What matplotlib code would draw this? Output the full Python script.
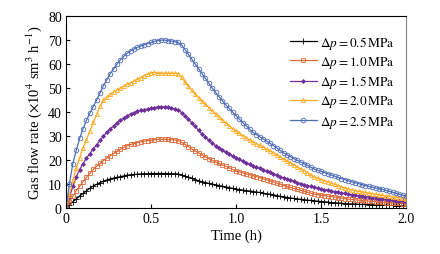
import numpy as np
import matplotlib
matplotlib.use("Agg")
import matplotlib.pyplot as plt

plt.rcParams['font.family'] = ['Liberation Serif', 'DejaVu Serif']
plt.rcParams['mathtext.fontset'] = 'stix'

# time axis, h (sampled every 0.02 h)
time = np.round(np.arange(101) * 0.02, 2)

# gas flow rate, 10^4 sm^3/h
q05 = [0, 1.3, 2.6, 3.8, 5, 6.1, 7.2, 8.3, 9.2, 9.9, 10.6, 11.2, 11.7, 12.1, 12.5, 12.8, 13.1,
       13.4, 13.7, 13.9, 14, 14.1, 14.2, 14.3, 14.3, 14.4, 14.4, 14.4, 14.4, 14.4, 14.4, 14.3,
       14.3, 14.2, 13.8, 13.3, 12.9, 12.4, 11.9, 11.4, 11, 10.6, 10.3, 10, 9.7, 9.4, 9.1, 8.8,
       8.5, 8.2, 7.9, 7.7, 7.5, 7.3, 7.1, 6.9, 6.7, 6.5, 6.2, 6, 5.8, 5.5, 5.2, 4.9, 4.7, 4.4,
       4.2, 4, 3.8, 3.7, 3.5, 3.3, 3.2, 3, 2.9, 2.7, 2.6, 2.5, 2.3, 2.2, 2.1, 2, 1.9, 1.8, 1.7,
       1.7, 1.6, 1.5, 1.5, 1.4, 1.4, 1.3, 1.3, 1.2, 1.2, 1.1, 1.1, 1, 1, 0.9, 0.9]
q10 = [0, 2.5, 5, 7.2, 9.1, 11, 12.8, 14.5, 16.1, 17.4, 18.6, 19.8, 20.9, 21.8, 22.8, 23.7, 24.5,
       25.3, 26, 26.5, 26.9, 27.3, 27.6, 27.9, 28.1, 28.3, 28.5, 28.6, 28.7, 28.7, 28.6, 28.5,
       28.4, 28.1, 27.4, 26.5, 25.6, 24.7, 23.8, 23, 22.2, 21.4, 20.6, 19.9, 19.2, 18.6, 18, 17.4,
       16.8, 16.1, 15.5, 15.1, 14.7, 14.3, 13.9, 13.5, 13.1, 12.7, 12.2, 11.8, 11.4, 10.9, 10.4,
       9.9, 9.4, 9, 8.6, 8.2, 7.8, 7.4, 7, 6.6, 6.2, 5.8, 5.6, 5.4, 5.2, 5, 4.8, 4.6, 4.4, 4.2,
       3.9, 3.7, 3.6, 3.5, 3.3, 3.2, 3.1, 2.9, 2.8, 2.7, 2.5, 2.4, 2.3, 2.2, 2.1, 2.1, 2, 1.9, 1.8]
q15 = [0, 4.5, 9, 13, 16, 18.5, 20.7, 22.7, 24.6, 26.4, 28.2, 30, 31.6, 33, 34.3, 35.5, 36.6,
       37.6, 38.5, 39.2, 39.8, 40.3, 40.7, 41, 41.3, 41.6, 41.9, 42.1, 42.2, 42.2, 42, 41.7, 41.3,
       40.7, 39.8, 38.4, 37, 35.5, 34, 32.4, 30.8, 29.5, 28.3, 27.1, 26, 25, 24.2, 23.4, 22.6,
       21.8, 21, 20.3, 19.6, 18.9, 18.2, 17.6, 17, 16.5, 16, 15.4, 14.9, 14.3, 13.7, 13.1, 12.6,
       12, 11.5, 11.1, 10.6, 10.2, 9.8, 9.4, 9, 8.6, 8.3, 8, 7.7, 7.4, 7.1, 6.8, 6.6, 6.3, 6.1,
       5.8, 5.6, 5.4, 5.2, 5, 4.8, 4.5, 4.3, 4.1, 3.9, 3.7, 3.6, 3.4, 3.3, 3.1, 3, 2.9, 2.7]
q20 = [0, 5.5, 11.5, 16.5, 21, 25, 28.5, 32, 35.7, 39, 42.5, 45, 46.3, 47.4, 48.4, 49.2, 50,
       50.8, 51.6, 52.3, 53, 53.7, 54.4, 55.2, 55.9, 56.4, 56.5, 56.3, 56.2, 56.2, 56.2, 56.2,
       56.2, 56, 54.5, 52.6, 50.8, 49, 47.4, 46, 44.6, 43.2, 41.9, 40.6, 39.3, 38, 36.7, 35.5,
       34.3, 33.1, 32, 31.1, 30.2, 29.3, 28.4, 27.5, 26.8, 26.1, 25.3, 24.6, 23.9, 23, 22.2,
       21.3, 20.4, 19.6, 18.8, 18, 17.2, 16.4, 15.6, 14.8, 13.8, 12.9, 12.4, 11.9, 11.4, 10.9,
       10.4, 9.9, 9.4, 8.9, 8.4, 7.9, 7.6, 7.3, 7, 6.7, 6.5, 6.2, 6, 5.8, 5.5, 5.3, 5.1, 4.9,
       4.7, 4.5, 4.3, 4.1, 3.8]
q25 = [0, 10, 18.5, 24, 29, 33, 36.5, 39.5, 42.3, 45, 48, 51, 53.5, 56, 58, 60, 61.8, 63.3,
       64.5, 65.5, 66.3, 67, 67.6, 68.1, 68.5, 69, 69.5, 69.8, 70, 70, 69.8, 69.6, 69.3, 69, 68,
       66, 64, 62, 60, 58, 56, 54, 52, 50, 48.2, 46.4, 44.7, 43, 41.5, 40, 38.5, 37, 35.6, 34.3,
       32.9, 31.5, 30.6, 29.7, 28.8, 27.9, 27, 26, 25, 24, 23, 22.2, 21.4, 20.6, 19.9, 19.2,
       18.5, 17.8, 17, 16.3, 15.8, 15.3, 14.8, 14.3, 13.8, 13.3, 12.8, 12.3, 11.9, 11.4, 11,
       10.6, 10.2, 9.8, 9.4, 9.1, 8.7, 8.4, 8.1, 7.8, 7.4, 7, 6.6, 6.2, 5.8, 5.4, 5.0]

series = [q05, q10, q15, q20, q25]
labels = ["0.5", "1.0", "1.5", "2.0", "2.5"]
colors = ["#000000", "#E06A38", "#70309A", "#FFAA22", "#4F6CB8"]
markers = ["+", "s", "D", "^", "o"]
msizes = [4.5, 3.0, 2.0, 3.0, 3.3]

fig = plt.figure(figsize=(4.4, 2.55), dpi=100)
ax = fig.add_axes([0.15, 0.18, 0.773, 0.753])

for y, lab, c, m, ms in zip(series, labels, colors, markers, msizes):
    face = c if m in ("D", "+") else "none"
    ax.plot(time, y, color=c, lw=0.9, marker=m, ms=ms, mfc=face, mec=c, mew=0.6,
            label=r"$\Delta p = %s\,\mathrm{MPa}$" % lab)

ax.set_xlim(0, 2.0)
ax.set_ylim(0, 80)
ax.set_xticks([0, 0.5, 1.0, 1.5, 2.0])
ax.set_xticklabels(["0", "0.5", "1.0", "1.5", "2.0"])
ax.set_yticks(range(0, 81, 10))
ax.tick_params(direction="in", length=3, labelsize=10, pad=3)
ax.spines["right"].set_color("#808080")
ax.set_xlabel("Time (h)", fontsize=10.5, labelpad=2)
ax.set_ylabel(r"Gas flow rate ($\times$10$^4$ sm$^3$ h$^{-1}$)", fontsize=10.5, labelpad=3)

ax.legend(loc="upper right", bbox_to_anchor=(0.99, 0.95), frameon=False, fontsize=9.5,
          handlelength=2.0, handletextpad=0.3, labelspacing=0.25, borderaxespad=0.2)

fig.savefig("out.png", dpi=100)
